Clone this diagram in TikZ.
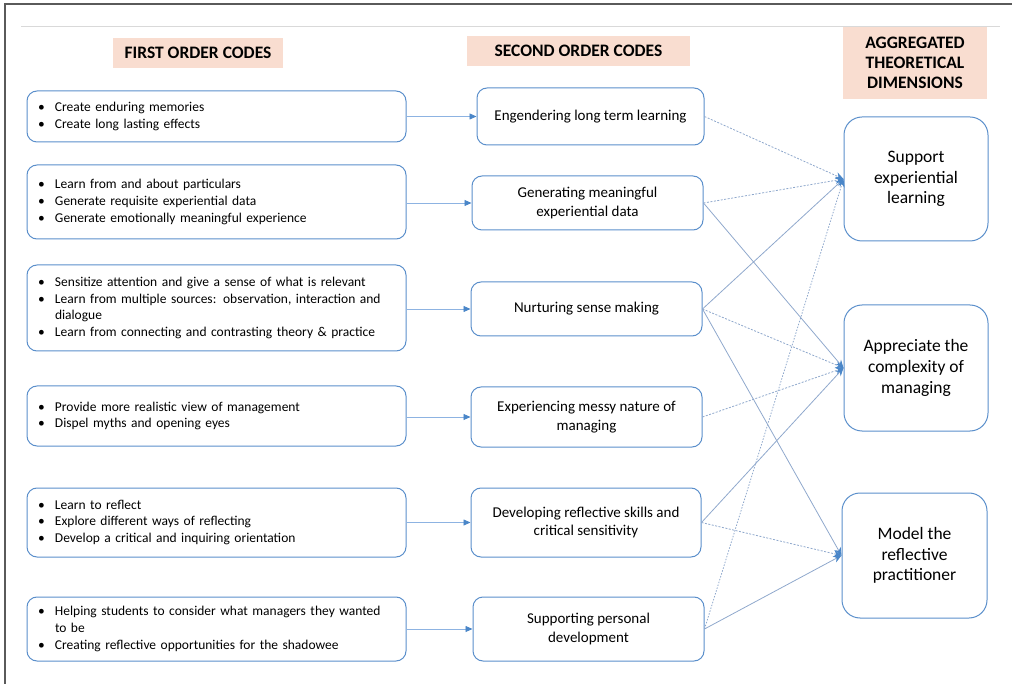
\documentclass[tikz,border=0pt]{standalone}
\usepackage{fontspec}
\setmainfont{Carlito}
\usetikzlibrary{arrows.meta}
\definecolor{boxblue}{HTML}{5B8FCB}
\definecolor{hdrfill}{HTML}{F9DDD0}
\definecolor{conn}{HTML}{8FA8CC}
\definecolor{larrow}{HTML}{8DB3E2}
\definecolor{tipblue}{HTML}{4A86C8}
\definecolor{frame}{HTML}{5A5A5A}
\newcommand{\bitem}{\makebox[17pt][l]{\textbullet}}
\newcommand{\bcont}{\hspace*{17pt}}
\begin{document}
\begin{tikzpicture}[x=1pt,y=-1pt,
  hdr/.style={fill=hdrfill,draw=none,font=\fontsize{17.5}{20}\selectfont\bfseries,align=center,inner sep=0pt},
  firstbox/.style={draw=boxblue,line width=1pt,rounded corners=10pt,minimum width=379pt,text width=357pt,inner xsep=11pt,align=left,font=\fontsize{13.5}{16.6}\selectfont},
  secbox/.style={draw=boxblue,line width=1pt,rounded corners=10pt,align=center,inner sep=0pt,font=\fontsize{15}{18.5}\selectfont},
  dimbox/.style={draw=boxblue,line width=1pt,rounded corners=18pt,align=center,inner sep=0pt,font=\fontsize{17.5}{20.6}\selectfont},
  larr/.style={draw=larrow,line width=0.8pt,-{Triangle[length=7pt,width=6pt,color=tipblue]}},
  link/.style={draw=conn,line width=0.8pt,-{Stealth[length=8pt,width=7pt,color=tipblue]}},
  dlink/.style={link,dash pattern=on 2pt off 1.5pt},
  dotlink/.style={link,dash pattern=on 1.5pt off 1.5pt}
]
\useasboundingbox (0,0) rectangle (1012,684);
% frame
\draw[frame,line width=1.5pt] (5,684) -- (5,4) -- (1012,4);
\draw[black!15,line width=0.8pt] (21,26) -- (1000,26);

% headers
\node[hdr,minimum width=170pt,minimum height=30pt] (h1) at (198,53) {FIRST ORDER CODES};
\node[hdr,minimum width=223pt,minimum height=30pt] (h2) at (578.5,51) {SECOND ORDER CODES};
\node[hdr,minimum width=144pt,minimum height=72pt] (h3) at (915,63) {AGGREGATED\\THEORETICAL\\DIMENSIONS};

% first order codes
\node[firstbox,minimum height=51pt] (l1) at (216.5,116.5) {\bitem Create enduring memories\\\bitem Create long lasting effects};
\node[firstbox,minimum height=74pt] (l2) at (216.5,202) {\bitem Learn from and about particulars\\\bitem Generate requisite experiential data\\\bitem Generate emotionally meaningful experience};
\node[firstbox,minimum height=86pt] (l3) at (216.5,308) {\bitem Sensitize attention and give a sense of what is relevant\\\bitem Learn from multiple sources: observation, interaction and\\\bcont dialogue\\\bitem Learn from connecting and contrasting theory \& practice};
\node[firstbox,minimum height=60pt] (l4) at (216.5,416) {\bitem Provide more realistic view of management\\\bitem Dispel myths and opening eyes};
\node[firstbox,minimum height=69pt] (l5) at (216.5,522.5) {\bitem Learn to reflect\\\bitem Explore different ways of reflecting\\\bitem Develop a critical and inquiring orientation};
\node[firstbox,minimum height=64pt] (l6) at (216.5,629) {\bitem Helping students to consider what managers they wanted\\\bcont to be\\\bitem Creating reflective opportunities for the shadowee};

% second order codes
\node[secbox,minimum width=227pt,minimum height=57pt] (s1) at (590.5,116.5) {Engendering long term learning};
\node[secbox,minimum width=231pt,minimum height=54pt] (s2) at (587.5,203) {Generating meaningful\\experiential data};
\node[secbox,minimum width=231pt,minimum height=54pt] (s3) at (586.5,309) {Nurturing sense making};
\node[secbox,minimum width=231pt,minimum height=60pt] (s4) at (586.5,417) {Experiencing messy nature of\\managing};
\node[secbox,minimum width=230pt,minimum height=69pt] (s5) at (586,522.5) {Developing reflective skills and\\critical sensitivity};
\node[secbox,minimum width=231pt,minimum height=64pt] (s6) at (588.5,629) {Supporting personal\\development};

% aggregated dimensions
\node[dimbox,minimum width=144pt,minimum height=124pt] (r1) at (916,179) {Support\\experiential\\learning};
\node[dimbox,minimum width=144pt,minimum height=126pt] (r2) at (916,368) {Appreciate the\\complexity of\\managing};
\node[dimbox,minimum width=145pt,minimum height=125pt] (r3) at (914.5,555.5) {Model the\\reflective\\practitioner};

% first -> second
\foreach \i in {1,...,6} {
  \draw[larr] (s\i.west -| l\i.east) -- (s\i.west);
}

% second -> aggregated
\draw[dlink] (s1.east) -- (r1.west);
\draw[dlink] (s2.east) -- (r1.west);
\draw[link] (s2.east) -- (r2.west);
\draw[link] (s3.east) -- (r1.west);
\draw[dlink] (s3.east) -- (r2.west);
\draw[link] (s3.east) -- (r3.west);
\draw[dlink] (s4.east) -- (r2.west);
\draw[link] (s5.east) -- (r2.west);
\draw[dlink] (s5.east) -- (r3.west);
\draw[link] (s6.east) -- (r3.west);
\draw[dotlink] (s6.east) -- (r1.west);
\end{tikzpicture}
\end{document}
